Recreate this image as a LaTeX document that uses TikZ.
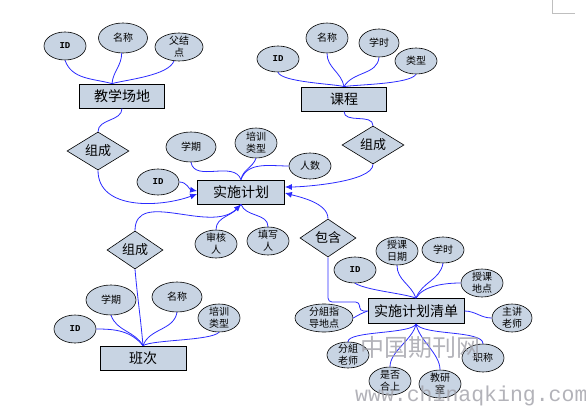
\documentclass[tikz,border=0pt]{standalone}
\usepackage{fontspec}
\usepackage{xcolor}
\usepackage{tikz}
\usetikzlibrary{arrows.meta,shapes.geometric}
\setmonofont{Liberation Mono}
\newfontfamily\cjk{Noto Sans CJK SC}
\definecolor{boxfill}{HTML}{C8D4E3}
\definecolor{linkblue}{HTML}{2B2BFF}
\definecolor{mark}{HTML}{A0A0A8}

\begin{document}
\begin{tikzpicture}[x=1pt,y=1pt,>={Latex[length=7pt,width=6pt]}]
\tikzset{entity/.style={draw=black,line width=0.8pt,fill=boxfill,minimum width=85pt,minimum height=24pt,inner sep=0pt,font=\cjk\fontsize{14}{16}\selectfont},
  rel/.style={diamond,draw=black,line width=0.6pt,fill=boxfill,minimum width=62pt,minimum height=36pt,inner sep=0pt,font=\cjk\fontsize{13}{15}\selectfont},
  attr/.style={ellipse,draw=black,line width=0.6pt,fill=boxfill,minimum width=42pt,minimum height=28pt,inner xsep=0pt,inner ysep=-8pt,align=center,font=\cjk\fontsize{10}{12}\selectfont},
  key/.style={attr,font=\ttfamily\bfseries\fontsize{9}{11}\selectfont},
  link/.style={draw=linkblue,line width=0.8pt}}
\useasboundingbox (0,0) rectangle (586,-406);
\node[entity] (site) at (122,-96) {教学场地};
\node[key] (siteid) at (65,-46) {ID};
\node[attr,minimum width=49pt,minimum height=30pt] (sitename) at (123,-38) {名称};
\node[attr,minimum width=48pt] (siteparent) at (179,-47) {父结\\点};
\node[rel] (siterel) at (98,-151) {组成};
\node[entity] (course) at (344,-99) {课程};
\node[key,minimum height=26pt] (courseid) at (278,-59) {ID};
\node[attr,minimum height=30pt] (coursename) at (327,-38) {名称};
\node[attr,minimum width=40pt] (coursehours) at (379,-43) {学时};
\node[attr,minimum height=26pt] (coursetype) at (416,-61) {类型};
\node[rel] (courserel) at (373,-145) {组成};
\node[entity,minimum width=87pt] (plan) at (241,-192) {实施计划};
\node[attr,minimum width=50pt,minimum height=30pt] (planterm) at (191,-147) {学期};
\node[attr,minimum height=30pt] (plantype) at (256,-143) {培训\\类型};
\node[attr,minimum height=26pt] (plancount) at (310,-166) {人数};
\node[key,minimum height=26pt] (planid) at (158,-182) {ID};
\node[attr] (plancheck) at (216,-244) {审核\\人};
\node[attr] (planfill) at (268,-241) {填写\\人};
\node[entity,minimum width=86pt] (cls) at (143,-358) {班次};
\node[rel,minimum width=56pt,minimum height=34pt] (clsrel) at (135,-250) {组成};
\node[attr,minimum width=50pt,minimum height=30pt] (clsterm) at (111,-300) {学期};
\node[attr,minimum width=50pt,minimum height=30pt] (clsname) at (177,-297) {名称};
\node[attr] (clstype) at (219,-318) {培训\\类型};
\node[key] (clsid) at (75,-329) {ID};
\node[rel,minimum width=56pt,minimum height=34pt] (contain) at (328,-238) {包含};
\node[entity,minimum width=96pt,minimum height=25pt] (list) at (416,-311) {实施计划清单};
\node[attr] (listdate) at (397,-251) {授课\\日期};
\node[attr,minimum height=26pt] (listhours) at (443,-250) {学时};
\node[key,minimum height=26pt] (listid) at (355,-270) {ID};
\node[attr] (listsite) at (482,-283) {授课\\地点};
\node[attr,minimum width=58pt] (listguide) at (324,-318) {分組指\\导地点};
\node[attr,minimum width=40pt] (listlead) at (512,-318) {主讲\\老师};
\node[attr,minimum height=26pt] (listtutor) at (348,-355) {分組\\老师};
\node[attr] (listtitle) at (483,-358) {职称};
\node[attr] (listjoin) at (390,-381) {是否\\合上};
\node[attr] (listroom) at (440,-384) {教研\\室};
\draw[link] (siteid.south) to[out=-70,in=165] ([xshift=-10pt]site.north);
\draw[link] (sitename.265) to[out=-90,in=85] ([xshift=-10pt]site.north);
\draw[link] (siteparent.250) to[out=-110,in=15,looseness=0.6] ([xshift=-10pt]site.north);
\draw[link] (site.south) to[out=-90,in=90] (siterel.north);
\draw[link,->] (siterel.south) to[out=-90,in=200] ([yshift=-2pt]plan.west);
\draw[link] (courseid.south) to[out=-70,in=165,looseness=0.4] (course.north);
\draw[link] (coursename.south) to[out=-90,in=100] (course.north);
\draw[link] (coursehours.south) to[out=-95,in=60] (course.north);
\draw[link] (coursetype.south) to[out=-120,in=10,looseness=0.4] (course.north);
\draw[link] (course.south) to[out=-90,in=90] (courserel.north);
\draw[link,->] (courserel.south) to[out=-90,in=0,looseness=0.5] ([yshift=5pt]plan.east);
\draw[link,->] (planid.east) to[out=0,in=170] ([yshift=1pt]plan.west);
\draw[link] (planterm.south) to[out=-80,in=110] (plan.north);
\draw[link] (plantype.south) to[out=-110,in=80] (plan.north);
\draw[link] (plancount.west) to[out=180,in=70] (plan.north);
\draw[link,->] (clsrel.north) to[out=90,in=-135] (plan.south);
\draw[link] (plancheck.north) to[out=90,in=-120] (plan.south);
\draw[link] (plan.south) to[out=-70,in=90] (planfill.north);
\draw[link] (clsrel.south) to[out=-85,in=95] (cls.north);
\draw[link] (clsterm.south) to[out=-70,in=120] (cls.north);
\draw[link] (clsname.south) to[out=-100,in=70] (cls.north);
\draw[link] (clstype.south) to[out=-135,in=30,looseness=0.4] (cls.north);
\draw[link] (clsid.east) to[out=0,in=130] (cls.north);
\draw[link,->] (contain.north) to[out=90,in=-15,looseness=0.8] ([yshift=-1pt]plan.east);
\draw[link,rounded corners=4pt] (contain.south) |- ([xshift=-8pt,yshift=9pt]list.west) |- (list.west);
\draw[link] (listguide.east) to[out=30,in=200] (list.west);
\draw[link] (listid.south) to[out=-30,in=160,looseness=0.6] (list.north);
\draw[link] (listdate.south) to[out=-90,in=110] (list.north);
\draw[link] (listhours.south) to[out=-100,in=70] (list.north);
\draw[link] (listsite.west) to[out=180,in=60,looseness=0.8] (list.north);
\draw[link] (list.east) to[out=0,in=180] (listlead.west);
\draw[link] (list.south) to[out=-110,in=90,looseness=0.4] (listtutor.north);
\draw[link] (list.south) to[out=-100,in=90,looseness=0.8] (listjoin.north);
\draw[link] (list.south) to[out=-80,in=90,looseness=0.8] (listroom.north);
\draw[link] (list.south) to[out=-60,in=90,looseness=0.5] (listtitle.north);
\node[font=\cjk\fontsize{24}{24}\selectfont,text=mark,opacity=0.8] (mark1) at (420,-347) {中国期刊网};
\node[font=\ttfamily\fontsize{21.5}{22}\selectfont,text=mark,opacity=0.8,anchor=base west,inner sep=0pt] (mark2) at (355,-401) {www.chinaqking.com};
\draw[gray!50] (552,0) -- (552,-13) -- (575,-13);
\end{tikzpicture}
\end{document}
